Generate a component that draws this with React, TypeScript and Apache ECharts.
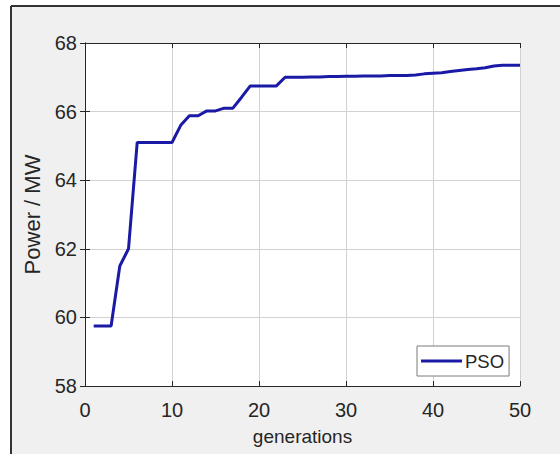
import React, { useEffect, useRef } from "react";
import * as echarts from "echarts";

const generations = [
  1, 2, 3, 4, 5, 6, 7, 8, 9, 10,
  11, 12, 13, 14, 15, 16, 17, 18, 19, 20,
  21, 22, 23, 24, 25, 26, 27, 28, 29, 30,
  31, 32, 33, 34, 35, 36, 37, 38, 39, 40,
  41, 42, 43, 44, 45, 46, 47, 48, 49, 50,
];

const psoPower = [
  59.75, 59.75, 59.75, 61.5, 62.0, 65.1, 65.1, 65.1, 65.1, 65.1,
  65.6, 65.88, 65.88, 66.02, 66.02, 66.1, 66.1, 66.42, 66.75, 66.75,
  66.75, 66.75, 67.0, 67.0, 67.0, 67.01, 67.01, 67.02, 67.02, 67.03,
  67.03, 67.04, 67.04, 67.04, 67.05, 67.05, 67.05, 67.07, 67.1, 67.12,
  67.13, 67.17, 67.2, 67.23, 67.25, 67.28, 67.33, 67.35, 67.35, 67.35,
];

const seriesName = "PSO";
const xTitle = "generations";
const yTitle = "Power / MW";

const FONT = "'Liberation Sans', Arial, Helvetica, sans-serif";
const TEXT = "#262626";

export default function App() {
  const ref = useRef<HTMLDivElement>(null);

  useEffect(() => {
    document.body.style.margin = "0";
    if (!ref.current) return;
    const chart = echarts.init(ref.current, null, { renderer: "svg" });
    const data = generations.map((g, i) => [g, psoPower[i]]);
    const boxAxisCommon = {
      axisLine: { show: true, lineStyle: { color: TEXT, width: 1 } },
      axisTick: { show: true, inside: true, length: 5, lineStyle: { color: TEXT } },
      axisLabel: { show: false },
      splitLine: { show: false },
    };
    chart.setOption({
      animation: false,
      backgroundColor: "#f0f0f0",
      textStyle: { fontFamily: FONT },
      graphic: [
        { type: "rect", shape: { x: 0, y: 0, width: 11, height: 454 }, style: { fill: "#ffffff" } },
        { type: "rect", shape: { x: 0, y: 0, width: 560, height: 6 }, style: { fill: "#ffffff" } },
        { type: "line", shape: { x1: 11, y1: 6, x2: 11, y2: 454 }, style: { stroke: "#333333", lineWidth: 2 } },
        { type: "line", shape: { x1: 11, y1: 6, x2: 560, y2: 6 }, style: { stroke: "#333333", lineWidth: 2 } },
      ],
      grid: {
        left: 85,
        top: 43,
        right: 40,
        bottom: 68,
        show: true,
        backgroundColor: "#ffffff",
        borderWidth: 0,
      },
      legend: {
        data: [seriesName],
        left: 417,
        top: 346,
        orient: "vertical",
        backgroundColor: "#ffffff",
        borderColor: "#7a7a7a",
        borderWidth: 1,
        borderRadius: 0,
        padding: [5, 5, 5, 4],
        itemWidth: 41,
        itemHeight: 3,
        itemGap: 0,
        icon: "rect",
        textStyle: {
          fontSize: 18.5,
          lineHeight: 20,
          color: TEXT,
          fontFamily: FONT,
          padding: [0, 0, 0, -2],
        },
      },
      xAxis: [
        {
          type: "value",
          min: 0,
          max: 50,
          interval: 10,
          position: "bottom",
          name: xTitle,
          nameLocation: "middle",
          nameGap: 41,
          nameTextStyle: { fontSize: 19, color: TEXT, fontFamily: FONT },
          axisLine: { show: true, lineStyle: { color: TEXT, width: 1 } },
          axisTick: { show: true, inside: true, length: 5, lineStyle: { color: TEXT } },
          axisLabel: { fontSize: 20, color: TEXT, margin: 14, fontFamily: FONT },
          splitLine: { show: true, lineStyle: { color: "#d2d2d2", width: 1 } },
        },
        { type: "value", min: 0, max: 50, interval: 10, position: "top", ...boxAxisCommon },
      ],
      yAxis: [
        {
          type: "value",
          min: 58,
          max: 68,
          interval: 2,
          position: "left",
          name: yTitle,
          nameLocation: "middle",
          nameGap: 42,
          nameTextStyle: { fontSize: 22, color: TEXT, fontFamily: FONT },
          axisLine: { show: true, lineStyle: { color: TEXT, width: 1 } },
          axisTick: { show: true, inside: true, length: 5, lineStyle: { color: TEXT } },
          axisLabel: { fontSize: 20, color: TEXT, margin: 8, fontFamily: FONT },
          splitLine: { show: true, lineStyle: { color: "#d2d2d2", width: 1 } },
        },
        { type: "value", min: 58, max: 68, interval: 2, position: "right", ...boxAxisCommon },
      ],
      series: [
        {
          name: seriesName,
          type: "line",
          data,
          showSymbol: false,
          symbol: "none",
          color: "#1a1aa6",
          lineStyle: { color: "#1a1aa6", width: 3 },
        },
      ],
    });
    return () => chart.dispose();
  }, []);

  return (
    <div
      ref={ref}
      style={{ position: "absolute", left: 0, top: 0, width: 560, height: 454 }}
    />
  );
}
